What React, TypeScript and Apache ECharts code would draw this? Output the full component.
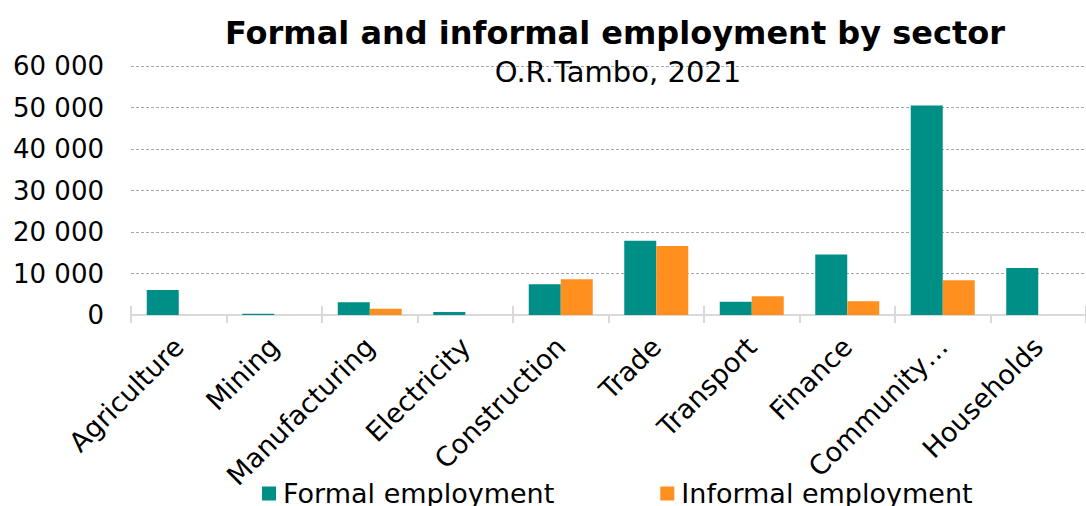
import React, { useEffect, useRef } from "react";
import * as echarts from "echarts";

const categories = [
  "Agriculture",
  "Mining",
  "Manufacturing",
  "Electricity",
  "Construction",
  "Trade",
  "Transport",
  "Finance",
  "Community…",
  "Households",
];
const formalEmployment = [6000, 300, 3100, 700, 7400, 17900, 3200, 14600, 50500, 11300];
const informalEmployment = [0, 0, 1500, 0, 8600, 16600, 4500, 3300, 8400, 0];
const yTicks = [0, 10000, 20000, 30000, 40000, 50000, 60000];

const FONT = "DejaVu Sans, Verdana, sans-serif";

export default function App() {
  const ref = useRef<HTMLDivElement>(null);
  useEffect(() => {
    if (!ref.current) return;
    const chart = echarts.init(ref.current, null, { renderer: "svg" });
    const fmt = (v: number) => String(v).replace(/\B(?=(\d{3})+(?!\d))/g, " ");
    chart.setOption({
      animation: false,
      textStyle: { fontFamily: FONT },
      title: [
        {
          text: "Formal and informal employment by sector",
          left: 610,
          textAlign: "center",
          top: 12,
          textStyle: { fontFamily: FONT, fontSize: 32, fontWeight: "bold", color: "#000" },
        },
        {
          text: "O.R.Tambo, 2021",
          left: 613,
          textAlign: "center",
          top: 52,
          textStyle: { fontFamily: FONT, fontSize: 29, fontWeight: "normal", color: "#000" },
        },
      ],
      legend: {
        data: ["Formal employment", "Informal employment"],
        left: 257,
        top: 475,
        itemWidth: 14,
        itemHeight: 14,
        itemGap: 106,
        icon: "rect",
        textStyle: { fontFamily: FONT, fontSize: 27, color: "#000", padding: [0, 0, 0, 2] },
      },
      grid: { left: 131, right: -8, top: 66, bottom: 191, containLabel: false },
      xAxis: [
        {
          type: "category",
          data: categories,
          axisLine: { show: true, lineStyle: { color: "#d9d9d9", width: 2 } },
          axisTick: { show: true, length: 8, lineStyle: { color: "#d9d9d9", width: 2 } },
          axisLabel: {
            rotate: 45,
            interval: 0,
            margin: 27,
            fontFamily: FONT,
            fontSize: 27,
            color: "#000",
          },
        },
        {
          type: "category",
          data: categories,
          position: "bottom",
          axisLine: { show: false },
          axisTick: { show: true, inside: true, length: 9, lineStyle: { color: "#d9d9d9", width: 2 } },
          axisLabel: { show: false },
        },
      ],
      yAxis: {
        type: "value",
        min: yTicks[0],
        max: yTicks[yTicks.length - 1],
        interval: 10000,
        axisLine: { show: false },
        axisTick: { show: false },
        splitLine: { show: true, lineStyle: { color: "#a6a6a6", type: [3, 2], width: 1 } },
        axisLabel: {
          fontFamily: FONT,
          fontSize: 26,
          color: "#000",
          margin: 27,
          formatter: (v: number) => fmt(v),
        },
      },
      series: [
        {
          name: "Formal employment",
          type: "bar",
          data: formalEmployment,
          itemStyle: { color: "#008f86" },
          barGap: "0%",
          barCategoryGap: "33%",
        },
        {
          name: "Informal employment",
          type: "bar",
          data: informalEmployment,
          itemStyle: { color: "#ff9020" },
          barGap: "0%",
          barCategoryGap: "33%",
        },
      ],
    });
    return () => chart.dispose();
  }, []);
  return (
    <div
      ref={ref}
      style={{ position: "fixed", left: 0, top: 0, width: 1086, height: 506, background: "#fff" }}
    />
  );
}
